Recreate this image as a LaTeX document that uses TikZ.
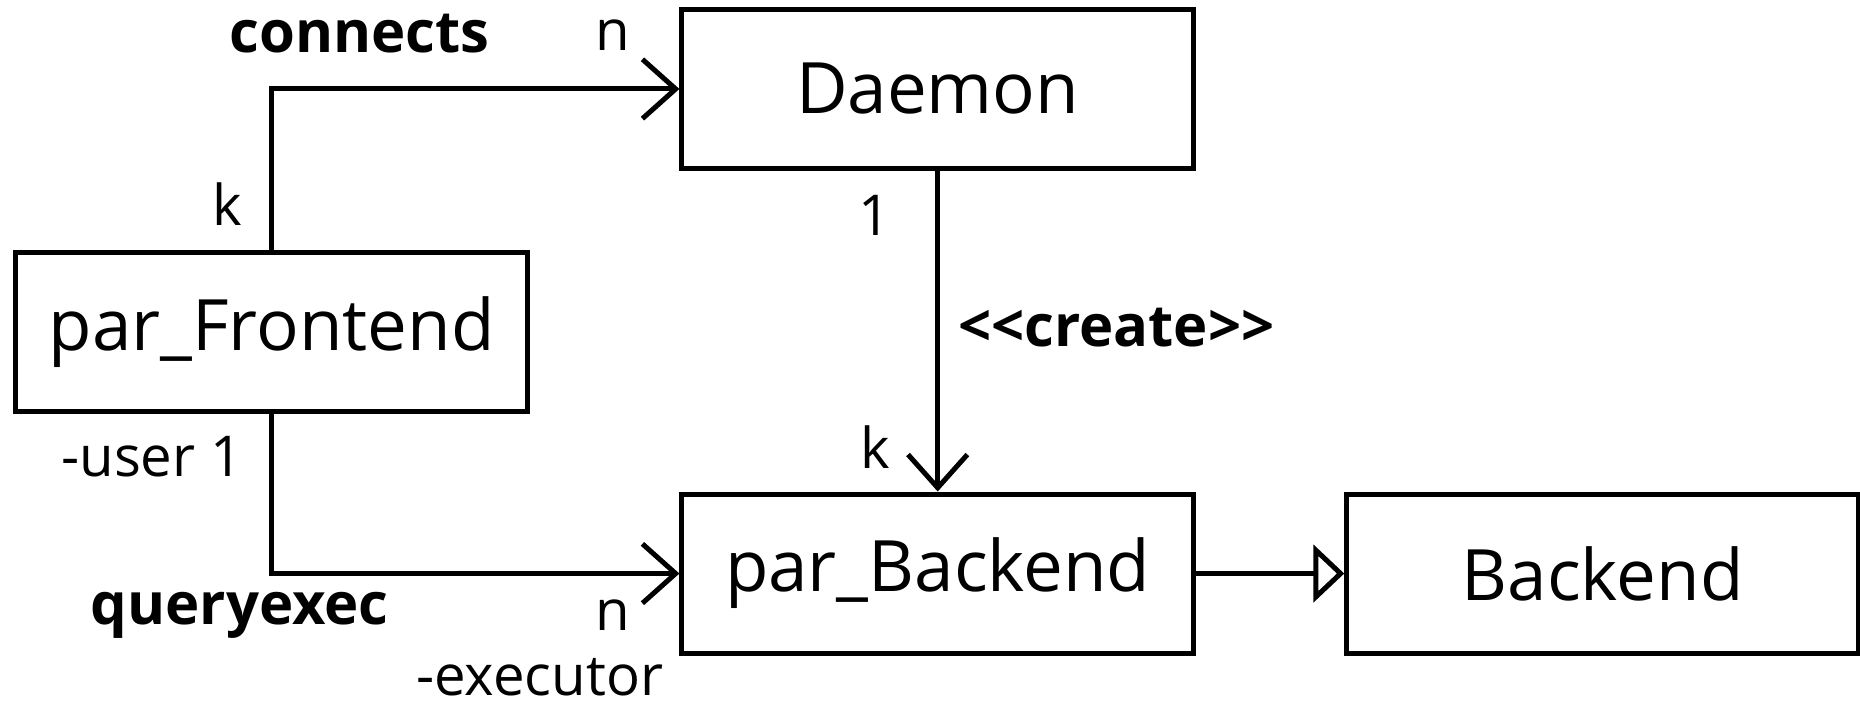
\documentclass[tikz,border=0pt]{standalone}
\usepackage{fontspec}
\setmainfont{Open Sans}
\usepackage{tikz}
\usetikzlibrary{arrows.meta}

\tikzset{
    cls/.style={draw, line width=1.2pt, minimum width=4.31cm, minimum height=1.34cm, inner sep=0pt, font=\fontsize{17}{20}\selectfont},
    lbl/.style={inner sep=0pt, font=\fontsize{13.5}{16}\selectfont},
    blbl/.style={inner sep=0pt, font=\fontsize{13.9}{16}\selectfont\bfseries},
    assoc/.style={line width=1.2pt, -{Straight Barb[length=2.8mm,width=5mm,line width=1.2pt]}},
    inherit/.style={line width=1.2pt, -{Triangle[open,length=2.6mm,width=4.8mm,line width=1.2pt]}}
}

\begin{document}
\begin{tikzpicture}[x=0.01cm,y=-0.01cm]
    \useasboundingbox (0,0) rectangle (1568,594);
    \node [cls] (daemon) at (790.5,75) {Daemon};
    \node [cls] (front) at (229,280) {par\_Frontend};
    \node [cls] (pback) at (790.5,483.5) {par\_Backend};
    \node [cls] (back) at (1351,483.5) {Backend};
    \draw [assoc] (front.north) |- (daemon.west);
    \draw [assoc] (front.south) |- (pback.west);
    \draw [assoc] (daemon.south) -- (pback.north);
    \draw [inherit] (pback.east) -- (back.west);
    % multiplicities and roles
    \node [blbl] (conn) at (303,28) {connects};
    \node [lbl] (n1) at (517,30) {n};
    \node [lbl] (k1) at (192,172) {k};
    \node [lbl] (one1) at (737,182) {1};
    \node [blbl] (create) at (941,276) {<{}<create>{}>};
    \node [lbl] (k2) at (738,377) {k};
    \node [lbl] (user) at (128,385) {-user 1};
    \node [blbl] (query) at (202,519) {queryexec};
    \node [lbl] (n2) at (517,519) {n};
    \node [lbl] (exec) at (455,571) {-executor};
\end{tikzpicture}
\end{document}
